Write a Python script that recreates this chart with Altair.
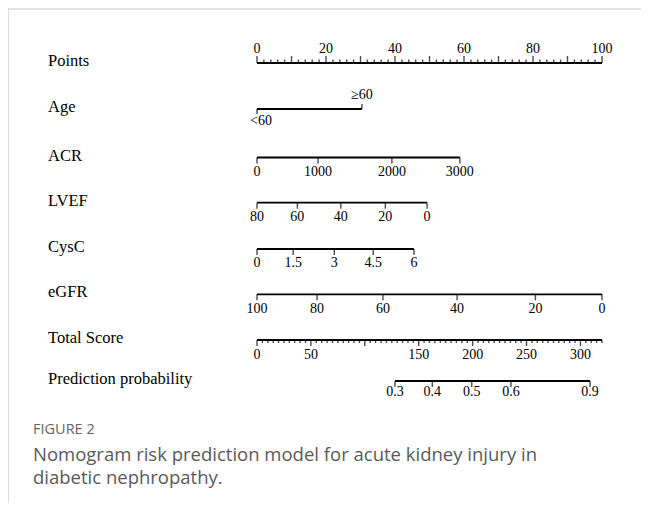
import altair as alt
import pandas as pd

# ---------------- data ----------------
rows = ["Points", "Age", "ACR", "LVEF", "CysC", "eGFR", "Total Score", "Prediction probability"]

points_labels = [0, 20, 40, 60, 80, 100]

age_labels = ["<60", "≥60"]
age_points = [0, 30.4]

acr_labels = ["0", "1000", "2000", "3000"]
acr_points = [0, 17.7, 39.1, 58.8]

lvef_labels = ["80", "60", "40", "20", "0"]
lvef_points = [0, 11.7, 24.3, 37.2, 49.3]

cysc_labels = ["0", "1.5", "3", "4.5", "6"]
cysc_points = [0, 10.5, 22.4, 33.7, 45.5]

egfr_labels = ["100", "80", "60", "40", "20", "0"]
egfr_points = [0, 17.4, 36.5, 58.0, 80.7, 100]

total_labels = [0, 50, 150, 200, 250, 300]
total_max = 320

prob_labels = ["0.3", "0.4", "0.5", "0.6", "0.9"]
prob_total = [128.0, 162.6, 199.2, 235.6, 308.9]

caption_head = "FIGURE 2"
caption_lines = ["Nomogram risk prediction model for acute kidney injury in",
                 "diabetic nephropathy."]

# ---------------- build tables ----------------
ridx = {r: i for i, r in enumerate(rows)}

def t2p(t):
    return t * 100.0 / total_max

lines = pd.DataFrame([
    {"row": "Points", "start": 0, "end": 100},
    {"row": "Age", "start": age_points[0], "end": age_points[-1]},
    {"row": "ACR", "start": acr_points[0], "end": acr_points[-1]},
    {"row": "LVEF", "start": lvef_points[0], "end": lvef_points[-1]},
    {"row": "CysC", "start": cysc_points[0], "end": cysc_points[-1]},
    {"row": "eGFR", "start": egfr_points[0], "end": egfr_points[-1]},
    {"row": "Total Score", "start": 0, "end": t2p(total_max)},
    {"row": "Prediction probability", "start": t2p(prob_total[0]), "end": t2p(prob_total[-1])},
])

tick_rows = []
for p in range(0, 101, 2):
    tick_rows.append({"row": "Points", "x": p, "g": "up7" if p % 10 == 0 else "up3"})
tick_rows.append({"row": "Age", "x": age_points[0], "g": "down5"})
tick_rows.append({"row": "Age", "x": age_points[1], "g": "up5"})
for r, pts in [("ACR", acr_points), ("LVEF", lvef_points), ("CysC", cysc_points), ("eGFR", egfr_points)]:
    for p in pts:
        tick_rows.append({"row": r, "x": p, "g": "down6"})
for t in range(0, total_max + 1, 5):
    tick_rows.append({"row": "Total Score", "x": t2p(t), "g": "down6" if t % 50 == 0 else "down3"})
for t in prob_total:
    tick_rows.append({"row": "Prediction probability", "x": t2p(t), "g": "down6"})
ticks = pd.DataFrame(tick_rows)

tick_spec = {"up7": (7, -1), "up3": (3.5, -1), "up5": (5, -1),
             "down5": (5, 1), "down6": (6, 1), "down3": (3, 1)}

lab_rows = []
for v in points_labels:
    lab_rows.append({"row": "Points", "x": v, "text": str(v), "g": "above"})
lab_rows.append({"row": "Age", "x": age_points[0], "text": age_labels[0], "g": "agelow"})
lab_rows.append({"row": "Age", "x": age_points[1], "text": age_labels[1], "g": "above"})
for r, labs, pts in [("ACR", acr_labels, acr_points), ("LVEF", lvef_labels, lvef_points),
                     ("CysC", cysc_labels, cysc_points)]:
    for l, p in zip(labs, pts):
        lab_rows.append({"row": r, "x": p, "text": l, "g": "below14"})
for l, p in zip(egfr_labels, egfr_points):
    lab_rows.append({"row": "eGFR", "x": p, "text": l, "g": "below15"})
for t in total_labels:
    lab_rows.append({"row": "Total Score", "x": t2p(t), "text": str(t), "g": "below15"})
for l, t in zip(prob_labels, prob_total):
    lab_rows.append({"row": "Prediction probability", "x": t2p(t), "text": l, "g": "below11"})
labels = pd.DataFrame(lab_rows)

label_spec = {"above": dict(dy=-14, align="center"),
              "agelow": dict(dy=12, dx=-7, align="left"),
              "below14": dict(dy=14, align="center"),
              "below15": dict(dy=15, align="center"),
              "below11": dict(dy=11, align="center")}

names = pd.DataFrame({"row": rows})

for df in (lines, ticks, labels, names):
    df["ri"] = df["row"].map(ridx)

# ---------------- scales ----------------
W, H = 633, 495
x0_px, px_per_pt = 249.0, 3.45
xscale = alt.Scale(domain=[-x0_px / px_per_pt, (W - x0_px) / px_per_pt], nice=False, zero=False)
yscale = alt.Scale(domain=list(range(len(rows))), range=[55, 101, 149.5, 194.7, 241, 286.3, 332, 373],
                   nice=False, zero=False)

X = lambda f: alt.X(f, type="quantitative", scale=xscale, axis=None)
Y = alt.Y("ri:Q", scale=yscale, axis=None)

serif = "Liberation Serif"

layers = []
layers.append(alt.Chart(lines).mark_rule(color="black", strokeWidth=1.8).encode(
    x=X("start"), x2="end", y=Y))

for g, (length, sgn) in tick_spec.items():
    sub = ticks[ticks["g"] == g]
    if len(sub) == 0:
        continue
    layers.append(alt.Chart(sub).mark_tick(color="black", orient="vertical", size=length,
                                           thickness=1.4, yOffset=sgn * length / 2).encode(
        x=X("x"), y=Y))

for g, spec in label_spec.items():
    sub = labels[labels["g"] == g]
    if len(sub) == 0:
        continue
    layers.append(alt.Chart(sub).mark_text(font=serif, fontSize=14, color="black",
                                           baseline="middle", **spec).encode(
        x=X("x"), y=Y, text="text:N"))

layers.append(alt.Chart(names).mark_text(font=serif, fontSize=16.5, color="black",
                                         baseline="middle", align="left", dy=-2).encode(
    x=alt.value(40), y=Y, text="row:N"))

# frame
frame = pd.DataFrame({"k": ["top"]})
layers.append(alt.Chart(frame).mark_rule(color="#c8c8c8", strokeWidth=1.2).encode(
    x=alt.value(0), x2=alt.value(W), y=alt.value(1)))
layers.append(alt.Chart(frame).mark_rule(color="#c8c8c8", strokeWidth=1.2).encode(
    x=alt.value(0), y=alt.value(1), y2=alt.value(H)))

# caption
cap = pd.DataFrame({"t": [caption_head]})
layers.append(alt.Chart(cap).mark_text(font="Open Sans", fontSize=14.5, color="#666666",
                                       align="left", baseline="middle").encode(
    x=alt.value(25), y=alt.value(422), text="t:N"))
for i, line in enumerate(caption_lines):
    c = pd.DataFrame({"t": [line]})
    layers.append(alt.Chart(c).mark_text(font="Open Sans", fontSize=18.5, color="#5a5a5a",
                                         align="left", baseline="middle").encode(
        x=alt.value(25), y=alt.value(447 + 23 * i), text="t:N"))

chart = alt.layer(*layers).properties(
    width=W, height=H, padding=0, autosize=alt.AutoSizeParams(type="none"),
    background="white"
).configure_view(stroke=None)

chart.save("out.html", embed_options={"renderer": "svg", "actions": False})
